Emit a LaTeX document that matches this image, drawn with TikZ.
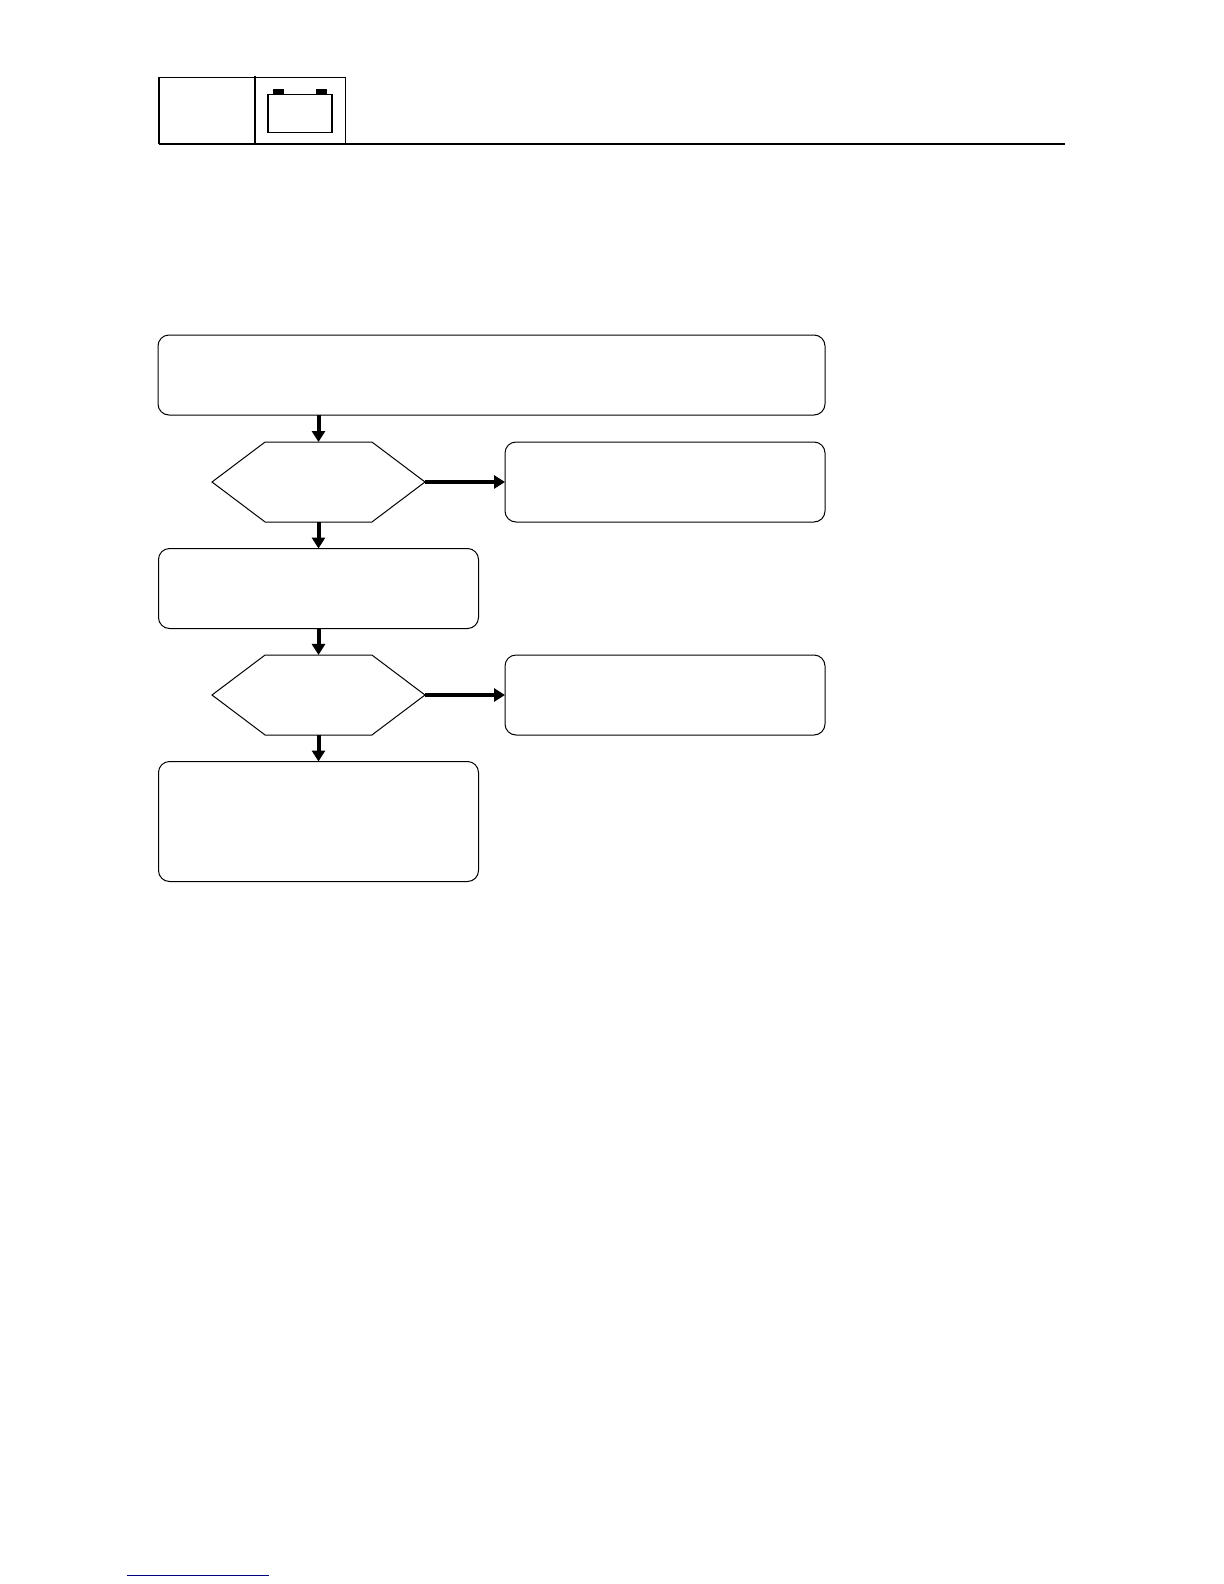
\documentclass[tikz,border=0pt]{standalone}
\usepackage{xcolor}
\usepackage{tikz}
\usetikzlibrary{arrows.meta,positioning,shapes.symbols}
\definecolor{linknavy}{RGB}{0,0,128}
\tikzset{
  stepbox/.style={draw, rounded corners=5.5pt, line width=0.5pt, outer sep=0pt,
    minimum width=160pt, minimum height=40pt, inner sep=0pt},
  widebox/.style={stepbox, minimum width=333.5pt},
  tallbox/.style={stepbox, minimum height=60pt},
  decision/.style={signal, signal to=west and east, signal pointer angle=74, draw, line width=0.5pt,
    outer sep=0pt, inner sep=0pt, minimum width=106.5pt, minimum height=40pt},
  flow/.style={-{Triangle[length=5.5pt,width=6.5pt]}, line width=2pt},
  sideflow/.style={-{Triangle[length=5.5pt,width=6.5pt]}, line width=2.2pt},
  frame/.style={line width=1.1pt}
}
\begin{document}
\begin{tikzpicture}[x=0.5pt, y=-0.5pt, node distance=13.25pt and 40pt]
\useasboundingbox (0,0) rectangle (1224,1584);

\draw[line width=0.75pt] (159,77.5) -- (345.5,77.5) -- (345.5,144);
\draw[frame] (159,77) -- (159,144);
\draw[frame] (255,76) -- (255,144);
\draw[frame, line width=1.3pt] (158.5,144) -- (1065,144);
\draw[line width=0.8pt] (268,94.5) rectangle (332,132.5);
\fill (273,89) rectangle (284,94.5);
\fill (316,89) rectangle (327,94.5);

\node[widebox] (start) at (491.5,375) {};
\node[decision] (checka) at (318.5,482) {};
\node[stepbox, right=of checka] (fixa) {};
\node[stepbox, below=of checka] (service) {};
\node[decision, below=of service] (checkb) {};
\node[stepbox, right=of checkb] (fixb) {};
\node[stepbox, tallbox, below=of checkb] (finish) {};

\draw[flow] (start.south -| checka.north) -- (checka.north);
\draw[flow] (checka) -- (service);
\draw[flow] (service) -- (checkb);
\draw[flow] (checkb) -- (finish);
\draw[sideflow] (checka) -- (fixa);
\draw[sideflow] (checkb) -- (fixb);

\draw[linknavy, line width=0.5pt] (127,1575) -- (269,1575);
\end{tikzpicture}
\end{document}
